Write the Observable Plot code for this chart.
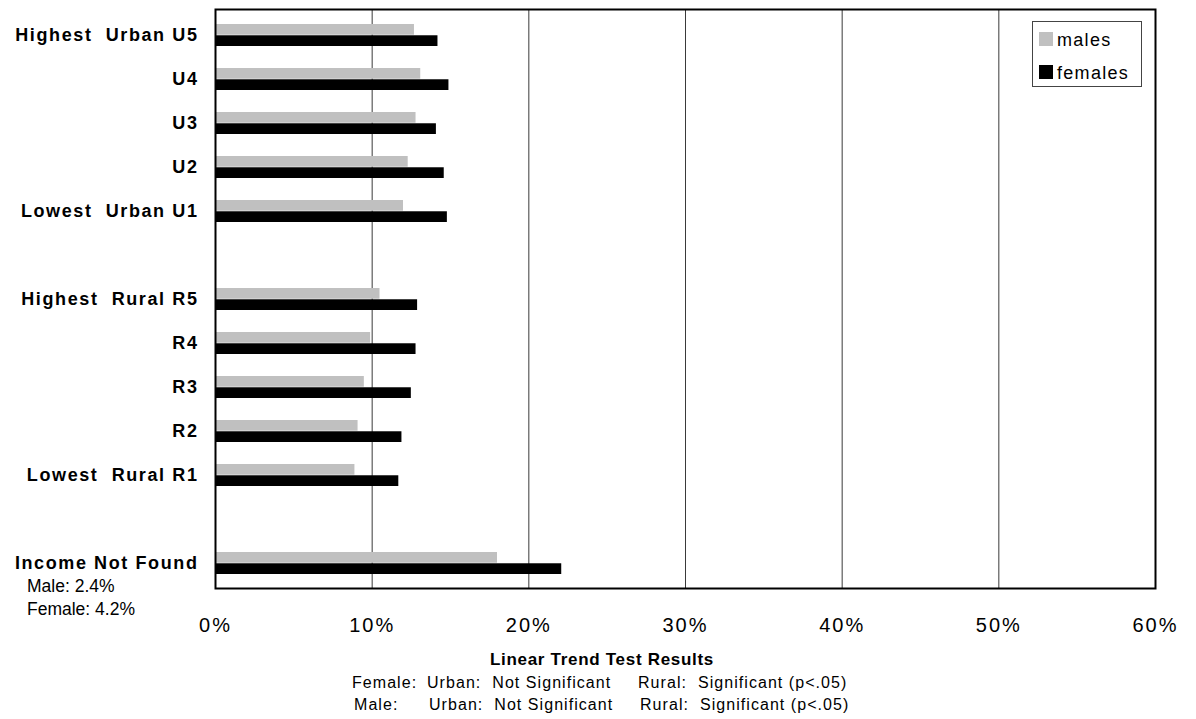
<!DOCTYPE html>
<html>
<head>
<meta charset="utf-8">
<script src="https://cdn.jsdelivr.net/npm/d3@7"></script>
<script src="https://cdn.jsdelivr.net/npm/@observablehq/plot@0.6"></script>
<style>
  html, body { margin: 0; padding: 0; background: #fff; }
  #wrap { position: relative; width: 1196px; height: 719px; font-family: Arial, "Liberation Sans", sans-serif; color: #000; }
  #wrap svg text { white-space: pre; }
  g[aria-label="y-axis tick label"] text { letter-spacing: 1.6px; }
  g[aria-label="x-axis tick label"] text { letter-spacing: 2px; }
  .abs { position: absolute; white-space: pre; line-height: 1; }
  .leg { font-size: 18px; letter-spacing: 1.3px; }
  .note { font-size: 17.5px; }
  .cap { font-size: 16px; letter-spacing: 1.05px; }
  .capTitle { font-size: 17px; font-weight: bold; letter-spacing: 0.7px; }
</style>
</head>
<body>
<div id="wrap"></div>
<script>
// ---- data ----
const categories = ["Highest  Urban U5", "U4", "U3", "U2", "Lowest  Urban U1", " ",
                    "Highest  Rural R5", "R4", "R3", "R2", "Lowest  Rural R1", "  ",
                    "Income Not Found"];
const males   = [12.7, 13.1, 12.8, 12.3, 12.0, null, 10.5, 9.9, 9.5, 9.1, 8.9, null, 18.0];
const females = [14.2, 14.9, 14.1, 14.6, 14.8, null, 12.9, 12.8, 12.5, 11.9, 11.7, null, 22.1];
const xTicks = [0, 10, 20, 30, 40, 50, 60];
const gridTicks = [10, 20, 30, 40, 50];
const seriesNames = ["males", "females"];
const seriesColors = ["#c0c0c0", "#000000"];
const missingNotes = ["Male: 2.4%", "Female: 4.2%"];
const captionTitle = "Linear Trend Test Results";
const captionRows = [
  ["Female:", "Urban:  Not Significant", "Rural:  Significant (p<.05)"],
  ["Male:", "Urban:  Not Significant", "Rural:  Significant (p<.05)"]
];

const rows = categories.map((c, i) => ({category: c, male: males[i], female: females[i]}))
  .filter(d => d.male != null);

const chart = Plot.plot({
  width: 1196,
  height: 719,
  marginLeft: 215,
  marginRight: 41,
  marginTop: 9,
  marginBottom: 131,
  style: {fontFamily: "Arial, 'Liberation Sans', sans-serif", overflow: "visible", background: "#fff"},
  x: {domain: [0, 60]},
  y: {domain: categories, padding: 0},
  marks: [
    Plot.ruleX(gridTicks, {stroke: "#3a3a3a", strokeWidth: 1}),
    Plot.barX(rows, {x: "male", y: "category", fill: seriesColors[0], insetTop: 11, insetBottom: 22.27}),
    Plot.barX(rows, {x: "female", y: "category", fill: seriesColors[1], insetTop: 22.27, insetBottom: 11}),
    Plot.frame({stroke: "#000", strokeWidth: 2}),
    Plot.axisX({ticks: xTicks, tickFormat: d => d + "%", tickSize: 0, tickPadding: 29, fontSize: 20, label: null}),
    Plot.axisY({tickSize: 0, tickPadding: 17, fontSize: 18, fontWeight: "bold", label: null})
  ]
});

const wrap = document.getElementById("wrap");
wrap.appendChild(chart);

function addDiv(cls, text, left, top, extra) {
  const d = document.createElement("div");
  d.className = "abs " + cls;
  d.textContent = text;
  d.style.left = left + "px";
  d.style.top = top + "px";
  if (extra) Object.assign(d.style, extra);
  wrap.appendChild(d);
  return d;
}

// legend
const box = document.createElement("div");
box.className = "abs";
Object.assign(box.style, {left: "1032px", top: "21px", width: "110px", height: "66px", border: "1px solid #444", background: "#fff", boxSizing: "border-box"});
wrap.appendChild(box);
seriesNames.forEach((name, i) => {
  const sw = document.createElement("div");
  sw.className = "abs";
  Object.assign(sw.style, {left: "1039px", top: (32 + i * 33) + "px", width: "14px", height: "14px", background: seriesColors[i]});
  wrap.appendChild(sw);
  addDiv("leg", name, 1057, 31 + i * 33);
});

// notes under "Income Not Found"
addDiv("note", missingNotes[0], 27, 578);
addDiv("note", missingNotes[1], 27, 601);

// caption
const t = addDiv("capTitle", captionTitle, 0, 651, {width: "1196px", textAlign: "center", left: "0px"});
t.style.paddingLeft = "4px";
const rowTops = [675, 697];
const colX = [[352, 427, 638], [354, 429, 640]];
captionRows.forEach((r, i) => {
  r.forEach((s, j) => addDiv("cap", s, colX[i][j], rowTops[i]));
});
</script>
</body>
</html>
